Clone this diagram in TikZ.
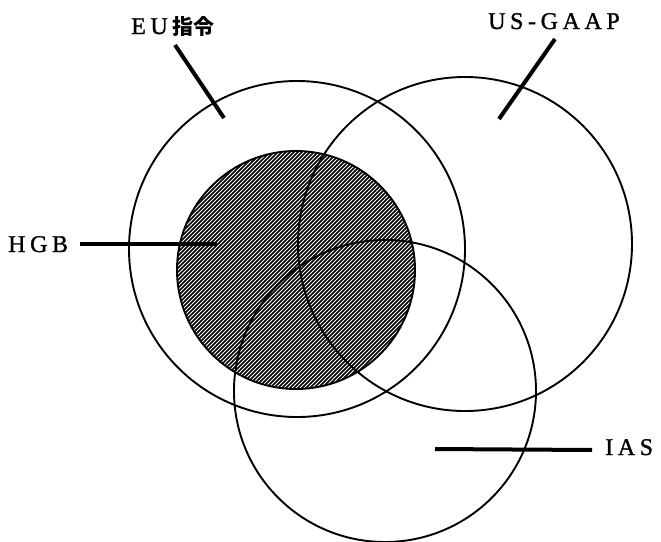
\documentclass[tikz,border=0pt]{standalone}
\usepackage{fontspec}
\setmainfont{Liberation Serif}
\newfontfamily\lblfont[FakeBold=1.2]{Liberation Serif}
\newfontfamily\cjk{Noto Sans CJK JP}
\newcommand\gp{\kern4.6pt}
\begin{document}
\begin{tikzpicture}[x=1pt,y=-1pt,
  ring/.style={draw=black,line width=1.9pt},
  leader/.style={draw=black,line width=4pt},
  lbl/.style={inner sep=0pt,anchor=base west,font=\lblfont\fontsize{24}{26}\selectfont}]
\useasboundingbox (0,0) rectangle (661,541);
% hatched HGB circle
\begin{scope}
  \clip (296,270) circle (119pt);
  \foreach \i in {-184,-180,...,184}
    \draw[line width=1.5pt] (296+\i-140,410) -- (296+\i+140,130);
\end{scope}
\draw[ring] (296,270) circle (119pt);
% other circles
\draw[ring] (297,249) circle (168pt);
\draw[ring] (465,244) circle (167pt);
\draw[ring] (385,391) circle (151pt);
% labels
\node[lbl] (eu) at (131,34) {E\gp U\gp{\cjk\bfseries\fontsize{21}{24}\selectfont 指令}};
\node[lbl] (us) at (488,29) {U\gp S\gp -\gp G\gp A\gp A\gp P};
\node[lbl] (hgb) at (8,252) {H\gp G\gp B};
\node[lbl] (ias) at (605,455) {I\gp A\gp S};
% leader ends
\coordinate (eua) at (175,45);
\coordinate (eub) at (224,118);
\coordinate (usa) at (555,39);
\coordinate (usb) at (499,119);
\coordinate (hgba) at (80,244);
\coordinate (hgbb) at (217,244);
\coordinate (iasa) at (592,450);
\coordinate (iasb) at (435,449);
\draw[leader] (eua) -- (eub);
\draw[leader] (usa) -- (usb);
\draw[leader] (hgba) -- (hgbb);
\draw[leader] (iasa) -- (iasb);
\end{tikzpicture}
\end{document}
